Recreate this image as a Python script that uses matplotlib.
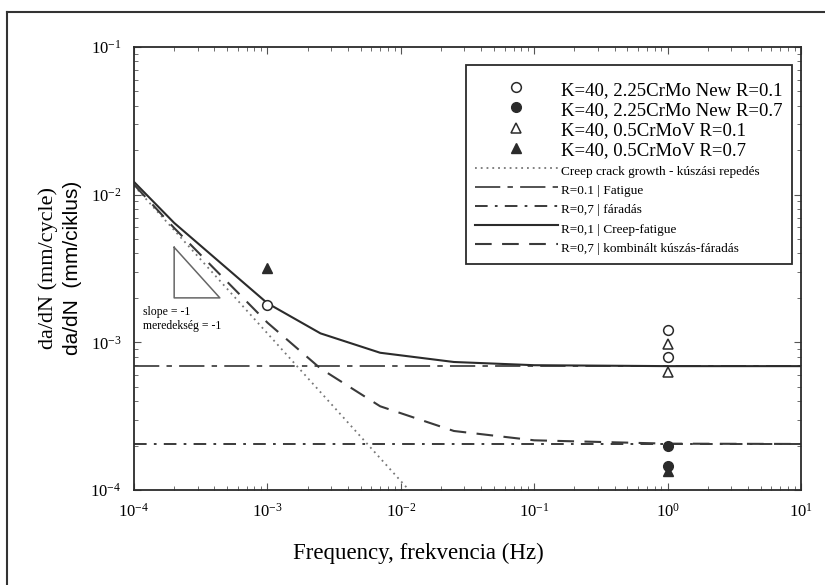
import numpy as np
import matplotlib.pyplot as plt
from matplotlib.lines import Line2D
from matplotlib.ticker import LogLocator, NullFormatter

plt.rcParams['font.family'] = ['Liberation Serif', 'DejaVu Serif']
plt.rcParams['mathtext.fontset'] = 'stix'

# model curves (frequency in Hz, da/dN in mm/cycle)
freq = [1e-4, 2e-4, 1e-3, 2.5e-3, 7e-3, 2.5e-2, 1e-1, 1e0, 1e1]
cf_r01 = [1.22e-2, 6.44e-3, 1.84e-3, 1.15e-3, 8.5e-4, 7.36e-4, 7.0e-4, 6.9e-4, 6.9e-4]
cf_r07 = [1.17e-2, 5.95e-3, 1.36e-3, 6.65e-4, 3.69e-4, 2.51e-4, 2.17e-4, 2.06e-4, 2.05e-4]
creep_f = [1e-4, 1.15e-2]
creep_v = [1.15e-2, 1e-4]
fat_f = [1e-4, 1e1]
fat_r01 = [6.9e-4, 6.9e-4]
fat_r07 = [2.05e-4, 2.05e-4]

# test results
crmo_r01_f = [1e-3, 1, 1]
crmo_r01_v = [1.8e-3, 1.22e-3, 7.9e-4]
crmo_r07_f = [1, 1]
crmo_r07_v = [2.0e-4, 1.45e-4]
crmov_r01_f = [1, 1]
crmov_r01_v = [9.8e-4, 6.3e-4]
crmov_r07_f = [1e-3, 1]
crmov_r07_v = [3.2e-3, 1.35e-4]

# slope = -1 guide triangle
tri_f = [2e-4, 2e-4, 4.4e-4, 2e-4]
tri_v = [4.4e-3, 2e-3, 2e-3, 4.4e-3]

labels = ['K=40, 2.25CrMo New R=0.1', 'K=40, 2.25CrMo New R=0.7',
          'K=40, 0.5CrMoV R=0.1', 'K=40, 0.5CrMoV R=0.7',
          'Creep crack growth - kúszási repedés',
          'R=0.1 | Fatigue', 'R=0,7 | fáradás',
          'R=0,1 | Creep-fatigue', 'R=0,7 | kombinált kúszás-fáradás']

fig = plt.figure(figsize=(8.25, 5.85), dpi=100)
ax = fig.add_axes([134/825, 95/585, 667/825, 443/585])

dk = '#2b2b2b'
ls_f01 = (0, (14, 4, 3, 4))
ls_f07 = (0, (7, 4, 1.5, 4))
ls_cf07 = (0, (8, 5))

ax.plot(creep_f, creep_v, color='#777777', lw=1.3, ls=(0, (1, 2.2)))
ax.plot(fat_f, fat_r01, color='#444444', lw=1.3, ls=ls_f01)
ax.plot(fat_f, fat_r07, color=dk, lw=1.3, ls=ls_f07)
ax.plot(freq, cf_r01, color=dk, lw=1.5)
ax.plot(freq, cf_r07, color='#3a3a3a', lw=1.5, ls=ls_cf07)

ax.plot(crmo_r01_f, crmo_r01_v, 'o', mfc='white', mec=dk, ms=7, mew=1.1)
ax.plot(crmo_r07_f, crmo_r07_v, 'o', mfc=dk, mec=dk, ms=7)
ax.plot(crmov_r01_f, crmov_r01_v, '^', mfc='white', mec=dk, ms=7, mew=1.1)
ax.plot(crmov_r07_f, crmov_r07_v, '^', mfc=dk, mec=dk, ms=7)

ax.plot(tri_f, tri_v, color='#666666', lw=1.1)
ax.text(1.17e-4, 1.6e-3, 'slope = -1', fontsize=8.5, va='center')
ax.text(1.17e-4, 1.29e-3, 'meredekség = -1', fontsize=8.5, va='center')

ax.set_xscale('log')
ax.set_yscale('log')
ax.set_xlim(1e-4, 1e1)
ax.set_ylim(1e-4, 1e-1)
for a in (ax.xaxis, ax.yaxis):
    a.set_major_locator(LogLocator(base=10, numticks=12))
    a.set_minor_locator(LogLocator(base=10, subs=np.arange(2, 10), numticks=12))
    a.set_minor_formatter(NullFormatter())
ax.tick_params(which='both', direction='in', top=True, right=True, color='#555555')
ax.tick_params(which='major', length=5, labelsize=12)
ax.tick_params(which='minor', length=3)
ax.tick_params(axis='x', pad=9)
ax.tick_params(axis='y', pad=9)
for s in ax.spines.values():
    s.set_linewidth(1.3)
    s.set_color(dk)

handles = [
    Line2D([], [], ls='none', marker='o', mfc='white', mec=dk, ms=7, mew=1.1),
    Line2D([], [], ls='none', marker='o', mfc=dk, mec=dk, ms=7),
    Line2D([], [], ls='none', marker='^', mfc='white', mec=dk, ms=7, mew=1.1),
    Line2D([], [], ls='none', marker='^', mfc=dk, mec=dk, ms=7),
    Line2D([], [], color='#777777', lw=1.3, ls=(0, (1, 2.2))),
    Line2D([], [], color='#444444', lw=1.3, ls=ls_f01),
    Line2D([], [], color=dk, lw=1.3, ls=ls_f07),
    Line2D([], [], color=dk, lw=1.5),
    Line2D([], [], color='#3a3a3a', lw=1.5, ls=ls_cf07),
]
leg = ax.legend(handles, labels, loc='upper right', bbox_to_anchor=(0.987, 0.959),
                prop={'size': 13.5}, handlelength=4.4, handleheight=1.0,
                handletextpad=0.2, labelspacing=0.07, borderpad=0.5,
                borderaxespad=0, fancybox=False, framealpha=1,
                title=' ', title_fontsize=3)
leg.get_frame().set_edgecolor(dk)
leg.get_frame().set_linewidth(1.3)
for t in leg.get_texts()[4:]:
    t.set_fontsize(9.5)

fig.text(48/825, 1 - 268/585, 'da/dN (mm/cycle)', rotation=90,
         ha='center', va='center', fontsize=16)
fig.text(72/825, 1 - 268/585, 'da/dN  (mm/ciklus)', rotation=90,
         ha='center', va='center', fontsize=15, family=['Liberation Sans', 'DejaVu Sans'])
fig.text(418/825, 1 - 553/585, 'Frequency, frekvencia (Hz)',
         ha='center', va='center', fontsize=16.5)

# outer frame of the scanned figure
fig.add_artist(Line2D([7/825, 1], [1 - 12/585, 1 - 12/585], transform=fig.transFigure,
                      color='#333333', lw=1.5))
fig.add_artist(Line2D([7/825, 7/825], [0, 1 - 12/585], transform=fig.transFigure,
                      color='#333333', lw=1.5))

fig.savefig('out.png', dpi=100)
